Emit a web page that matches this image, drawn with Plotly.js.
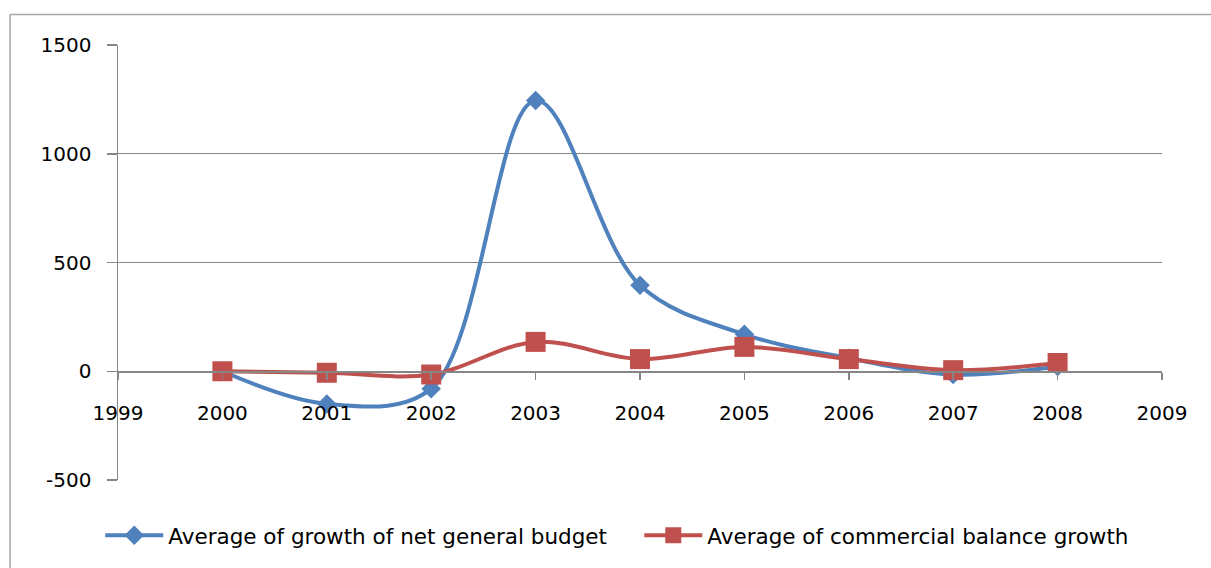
<!DOCTYPE html>
<html>
<head>
<meta charset="utf-8">
<script src="https://cdn.plot.ly/plotly-3.0.1.min.js"></script>
<style>
  html, body { margin: 0; padding: 0; background: #ffffff; }
  #chart { width: 1211px; height: 568px; }
</style>
</head>
<body>
<div id="chart"></div>
<script>
const years = [2000, 2001, 2002, 2003, 2004, 2005, 2006, 2007, 2008];
const budgetGrowth = [0, -150, -80, 1245, 395, 170, 60, -15, 22];
const commercialGrowth = [0, -7, -15, 135, 56, 112, 56, 5, 38];
const seriesNames = ["Average of growth of net general budget", "Average of commercial balance growth"];
const yTickVals = [-500, 0, 500, 1000, 1500];
const yTickText = ["-500", "0", "500", "1000", "1500"];

const FONT = "DejaVu Sans, Verdana, sans-serif";
const AXIS_GRAY = "#868686";

const traces = [
  {
    x: years, y: budgetGrowth, name: seriesNames[0],
    type: "scatter", mode: "lines+markers",
    line: { color: "#4F81BD", width: 4, shape: "spline", smoothing: 1 },
    marker: { symbol: "diamond", size: 15, color: "#4F81BD" }
  },
  {
    x: years, y: commercialGrowth, name: seriesNames[1],
    type: "scatter", mode: "lines+markers",
    line: { color: "#C0504D", width: 4, shape: "spline", smoothing: 1 },
    marker: { symbol: "square", size: 20, color: "#C0504D" }
  }
];

const layout = {
  width: 1211, height: 568,
  margin: { l: 118, r: 49, t: 45, b: 86, pad: 0 },
  paper_bgcolor: "#ffffff", plot_bgcolor: "#ffffff",
  font: { family: FONT, size: 20, color: "#000000" },
  showlegend: true,
  legend: {
    orientation: "h", x: -0.017, xanchor: "left", y: -0.127, yanchor: "middle",
    font: { family: FONT, size: 21.5, color: "#000000" },
    itemwidth: 58, tracegroupgap: 0, entrywidth: 466, entrywidthmode: "pixels",
    bgcolor: "rgba(0,0,0,0)"
  },
  xaxis: {
    range: [1999, 2009], dtick: 1, tick0: 1999,
    anchor: "free", position: 0.25,
    ticks: "outside", ticklen: 7, tickcolor: AXIS_GRAY, tickwidth: 1.5,
    showline: true, linecolor: AXIS_GRAY, linewidth: 1.5,
    showgrid: false, zeroline: false,
    ticklabelstandoff: 16,
    tickfont: { family: FONT, size: 20, color: "#000000" }
  },
  yaxis: {
    range: [-500, 1500], tickmode: "array", tickvals: yTickVals, ticktext: yTickText,
    ticks: "outside", ticklen: 10, tickcolor: AXIS_GRAY, tickwidth: 1.5,
    showline: true, linecolor: AXIS_GRAY, linewidth: 1.5,
    showgrid: true, gridcolor: AXIS_GRAY, gridwidth: 1.2,
    zeroline: false,
    ticklabelstandoff: 11,
    tickfont: { family: FONT, size: 20, color: "#000000" }
  },
  shapes: [
    { type: "line", xref: "paper", yref: "paper", x0: -0.1034, x1: -0.1034, y0: 1.0703, y1: -0.25,
      line: { color: "#A6A6A6", width: 1.5 } },
    { type: "line", xref: "paper", yref: "paper", x0: -0.1034, x1: 1.1, y0: 1.0703, y1: 1.0703,
      line: { color: "#A6A6A6", width: 1.5 } }
  ]
};

Plotly.newPlot("chart", traces, layout, { displayModeBar: false, staticPlot: true });
</script>
</body>
</html>
